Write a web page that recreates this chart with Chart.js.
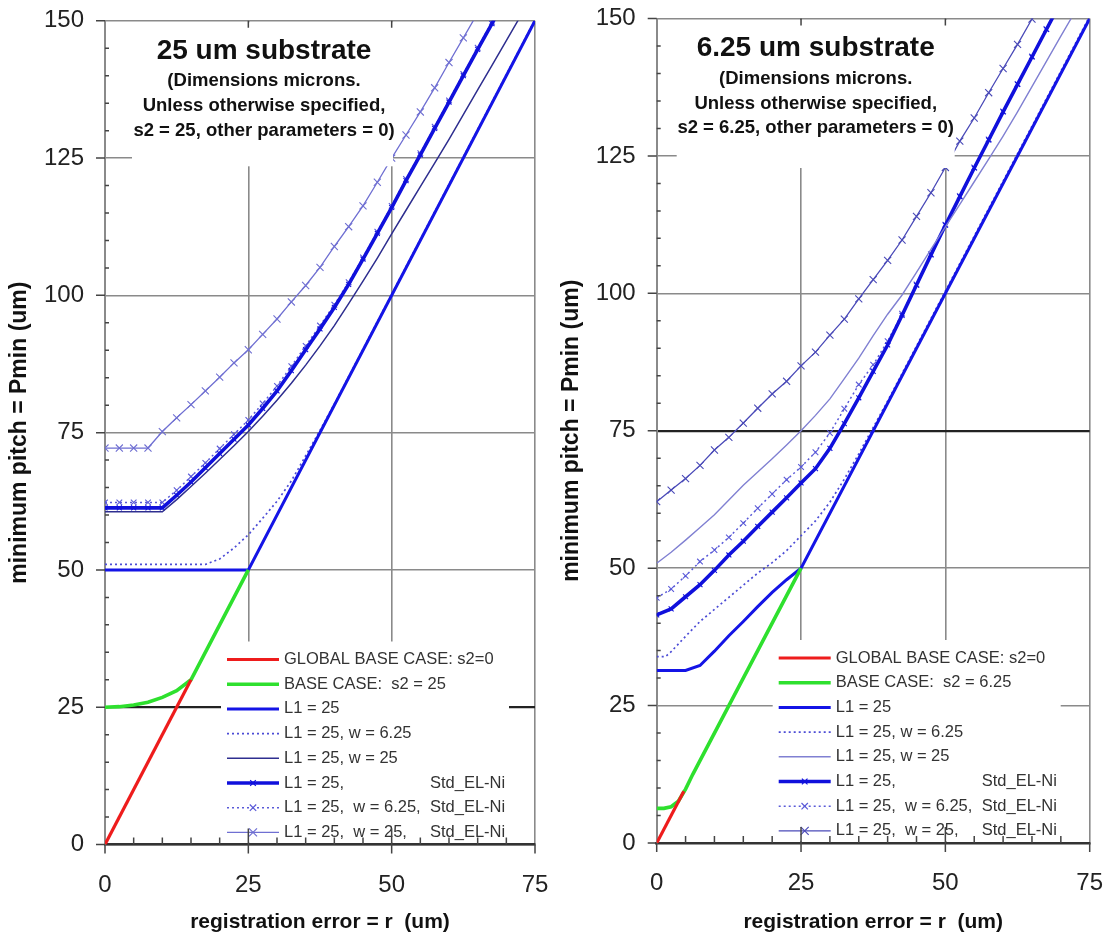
<!DOCTYPE html>
<html>
<head>
<meta charset="utf-8">
<script src="https://cdn.jsdelivr.net/npm/chart.js@4.4.0/dist/chart.umd.min.js"></script>
<style>
  html, body { margin: 0; padding: 0; background: #fff; }
  .wrap { position: relative; width: 1104px; height: 935px; }
  .panel { position: absolute; top: 0; width: 552px; height: 935px; }
  #left-panel { left: 0; }
  #right-panel { left: 552px; }
</style>
</head>
<body>
<div class="wrap">
  <div class="panel" id="left-panel"><canvas id="left-chart" width="552" height="935"></canvas></div>
  <div class="panel" id="right-panel"><canvas id="right-chart" width="552" height="935"></canvas></div>
</div>
<script>
// registration error grid used by the marked curves (um)
const rGrid = [0, 2.5, 5, 7.5, 10, 12.5, 15, 17.5, 20, 22.5, 25, 27.5, 30, 32.5, 35, 37.5,
  40, 42.5, 45, 47.5, 50, 52.5, 55, 57.5, 60, 62.5, 65, 67.5, 70, 72.5];
const xTicks = [0, 25, 50, 75];
const yTicks = [0, 25, 50, 75, 100, 125, 150];

// ---- left panel: 25 um substrate ----
const leftGlobalR = [0, 15];
const leftGlobalP = [0, 30];
const leftBaseR = [0, 2.5, 5, 7.5, 10, 12.5, 15, 25];
const leftBaseP = [25, 25.1, 25.4, 25.9, 26.8, 28.0, 30, 50];
const leftL1R = [0, 25, 75];
const leftL1P = [50, 50, 150];
const leftW6R = [0, 17.5, 20, 22.5, 25, 27.5, 30, 32.5, 35, 37.5, 40, 50, 75];
const leftW6P = [51, 51, 52, 54, 56.4, 59.4, 62.5, 66.2, 70.8, 75.4, 80.2, 100.2, 150.2];
const leftW25R = [0, 10, 12.5, 15, 17.5, 20, 22.5, 25, 27.5, 30, 32.5, 35, 37.5, 40, 42.5,
  45, 47.5, 50, 52.5, 55, 57.5, 60, 62.5, 65, 67.5, 70, 72.5];
const leftW25P = [60.6, 60.6, 62.8, 65.2, 67.6, 70.1, 72.6, 75.2, 78.0, 80.9, 84.0, 87.3, 90.8,
  94.5, 98.5, 102.6, 106.8, 111.2, 115.5, 119.8, 124.1, 128.4, 132.9, 137.4, 141.9, 146.4, 150.9];
const leftStdP = [61.3, 61.3, 61.3, 61.3, 61.3, 63.6, 66.0, 68.6, 71.2, 73.8, 76.4, 79.4, 82.6,
  86.3, 90.1, 93.9, 97.8, 102.0, 106.6, 111.3, 116.0, 120.9, 125.6, 130.4, 135.2, 140.0, 144.8, 149.5, 154.3];
const leftStd6P = [62.3, 62.3, 62.3, 62.3, 62.3, 64.5, 67.0, 69.5, 72.1, 74.7, 77.3, 80.3, 83.5,
  87.1, 90.8, 94.5, 98.3, 102.4, 106.9, 111.6, 116.3, 121.2, 125.9, 130.7, 135.5, 140.3, 145.1, 149.8, 154.6];
const leftStd25P = [72.2, 72.2, 72.2, 72.2, 75.2, 77.7, 80.1, 82.6, 85.1, 87.7, 90.1, 92.9, 95.7,
  98.8, 101.8, 105.1, 108.9, 112.5, 116.3, 120.6, 125.0, 129.2, 133.4, 137.8, 142.4, 146.9, 151.4];

// ---- right panel: 6.25 um substrate ----
const rightGlobalR = [0, 4.7];
const rightGlobalP = [0, 9.4];
const rightBaseR = [0, 1.25, 2.5, 3.75, 5, 6.25, 25];
const rightBaseP = [6.3, 6.3, 6.6, 7.6, 9.8, 12.5, 50];
const rightL1R = [0, 2.5, 5, 7.5, 10, 12.5, 15, 17.5, 20, 22.5, 25, 75];
const rightL1P = [31.4, 31.4, 31.4, 32.3, 34.9, 37.7, 40.3, 43.0, 45.6, 47.9, 50.0, 150];
const rightW6R = [0, 1.5, 2.5, 5, 7.5, 10, 12.5, 15, 17.5, 20, 22.5, 25, 27.5, 30, 32.5, 35, 37.5, 40, 75];
const rightW6P = [33.9, 33.9, 34.8, 37.6, 40.3, 42.5, 44.7, 46.9, 49.1, 51.0, 53.2, 55.9, 58.6,
  62.0, 66.2, 70.8, 75.6, 80.4, 150.4];
const rightW25P = [50.9, 52.9, 55.1, 57.4, 59.7, 62.4, 65.1, 67.5, 69.9, 72.4, 75.0, 77.8, 80.8,
  84.5, 88.2, 92.3, 96.2, 99.7, 103.8, 108.0, 112.1, 116.2, 120.3, 124.4, 128.6, 133.0, 137.6, 142.2, 146.8, 151.3];
const rightStdP = [41.5, 42.6, 44.8, 47.0, 49.6, 52.4, 54.9, 57.6, 60.2, 62.8, 65.5, 68.1, 71.8,
  76.3, 81.0, 85.8, 90.6, 96.0, 101.5, 107.0, 112.4, 117.6, 122.8, 127.9, 133.0, 138.0, 143.0, 148.0, 153.0];
const rightStd6P = [44.6, 46.2, 48.6, 51.2, 53.3, 55.6, 58.2, 60.9, 63.5, 66.1, 68.4, 71.1, 74.6,
  79.0, 83.4, 87.0, 91.3, 96.3, 101.6, 107.1, 112.5, 117.7, 122.9, 128.0, 133.1, 138.1, 143.1, 148.1, 153.1];
const rightStd25P = [62.1, 64.2, 66.3, 68.7, 71.5, 73.8, 76.4, 79.1, 81.7, 84.0, 86.8, 89.3, 92.4,
  95.3, 99.0, 102.5, 106.0, 109.7, 114.0, 118.3, 122.9, 127.7, 131.9, 136.5, 140.9, 145.3, 149.9, 154.4];

// legend text, second column holds the aligned "Std_EL-Ni" part
const leftLabels = ['GLOBAL BASE CASE: s2=0', 'BASE CASE:  s2 = 25', 'L1 = 25', 'L1 = 25, w = 6.25',
  'L1 = 25, w = 25', 'L1 = 25,', 'L1 = 25,  w = 6.25,', 'L1 = 25,  w = 25,'];
const rightLabels = ['GLOBAL BASE CASE: s2=0', 'BASE CASE:  s2 = 6.25', 'L1 = 25', 'L1 = 25, w = 6.25',
  'L1 = 25, w = 25', 'L1 = 25,', 'L1 = 25,  w = 6.25,', 'L1 = 25,  w = 25,'];
const labelTail = ['', '', '', '', '', 'Std_EL-Ni', 'Std_EL-Ni', 'Std_EL-Ni'];

const leftTitle = ['25 um substrate', '(Dimensions microns.', 'Unless otherwise specified,', 's2 = 25, other parameters = 0)'];
const rightTitle = ['6.25 um substrate', '(Dimensions microns.', 'Unless otherwise specified,', 's2 = 6.25, other parameters = 0)'];

Chart.defaults.font.family = "'Liberation Sans', Arial, Helvetica, sans-serif";
Chart.defaults.color = '#222';

function points(xs, ys) {
  return ys.map((v, i) => ({x: xs[i], y: v}));
}

// draws the title block, the legend box and the small tick marks
const decorPlugin = {
  id: 'decor',
  afterDatasetsDraw: (chart, args, opts) => {
    const {ctx, chartArea: a} = chart;
    ctx.save();
    ctx.fillStyle = '#fff';
    ctx.fillRect(a.left + opts.titleBox[0], a.top + 1.5, opts.titleBox[1] - opts.titleBox[0], opts.titleBox[2]);
    ctx.fillRect(a.left + 116, a.bottom - 203, 288, 201);

    ctx.textAlign = 'center';
    ctx.textBaseline = 'middle';
    ctx.fillStyle = '#111';
    ctx.font = "bold 28px 'Liberation Sans', Arial, sans-serif";
    ctx.fillText(opts.title[0], a.left + 159, a.top + 30);
    ctx.font = "bold 18.5px 'Liberation Sans', Arial, sans-serif";
    for (let i = 1; i < opts.title.length; i++) {
      ctx.fillText(opts.title[i], a.left + 159, a.top + 36 + i * 24.6);
    }

    // legend
    ctx.textAlign = 'left';
    ctx.font = "16.5px 'Liberation Sans', Arial, sans-serif";
    chart.data.datasets.forEach((ds, i) => {
      const y = a.bottom - 185 + i * 24.7;
      const x0 = a.left + 122;
      const x1 = a.left + 174;
      ctx.strokeStyle = ds.borderColor;
      ctx.lineWidth = ds.borderWidth;
      ctx.setLineDash(ds.borderDash || []);
      ctx.beginPath();
      ctx.moveTo(x0, y);
      ctx.lineTo(x1, y);
      ctx.stroke();
      ctx.setLineDash([]);
      if (ds.pointRadius > 0) {
        const r = ds.pointRadius * 0.8;
        const xm = (x0 + x1) / 2;
        ctx.lineWidth = 1.2;
        ctx.beginPath();
        ctx.moveTo(xm - r, y - r); ctx.lineTo(xm + r, y + r);
        ctx.moveTo(xm - r, y + r); ctx.lineTo(xm + r, y - r);
        ctx.stroke();
      }
      ctx.fillStyle = '#333';
      ctx.fillText(ds.label, a.left + 179, y);
      if (ds.tail) ctx.fillText(ds.tail, a.left + 325, y);
    });
    ctx.restore();
  },
  afterDraw: (chart) => {
    const {ctx, chartArea: a, scales: {x, y}} = chart;
    ctx.save();
    ctx.strokeStyle = '#444';
    ctx.lineWidth = 1.5;
    ctx.beginPath();
    for (let v = 0; v <= 150; v += 5) {
      const py = y.getPixelForValue(v);
      if (v % 25 === 0) { ctx.moveTo(a.left - 9, py); ctx.lineTo(a.left, py); }
      else { ctx.moveTo(a.left, py); ctx.lineTo(a.left + 4, py); }
    }
    for (let v = 0; v <= 75; v += 5) {
      const px = x.getPixelForValue(v);
      if (v % 25 === 0) {
        ctx.moveTo(px, a.bottom + 9);
        ctx.lineTo(px, a.bottom - (v > 0 && v < 75 ? 16 : 0));
        if (v > 0 && v < 75) { ctx.moveTo(px, a.top); ctx.lineTo(px, a.top + 7); }
      } else {
        ctx.moveTo(px, a.bottom); ctx.lineTo(px, a.bottom - 7);
      }
    }
    ctx.stroke();
    ctx.restore();
  }
};

function makeSet(label, tail, data, style) {
  return {
    label: label,
    tail: tail,
    data: data,
    borderColor: style.color,
    backgroundColor: style.color,
    borderWidth: style.width,
    borderDash: style.dash || [],
    pointRadius: style.marker || 0,
    pointStyle: 'crossRot',
    pointBorderColor: style.color,
    pointBorderWidth: 1.1,
    tension: 0,
    fill: false,
  };
}

function buildChart(canvasId, cfg) {
  const styles = cfg.styles;
  new Chart(document.getElementById(canvasId), {
    type: 'line',
    data: {
      datasets: [
        makeSet(cfg.labels[0], labelTail[0], points(cfg.globalR, cfg.globalP), styles[0]),
        makeSet(cfg.labels[1], labelTail[1], points(cfg.baseR, cfg.baseP), styles[1]),
        makeSet(cfg.labels[2], labelTail[2], points(cfg.l1R, cfg.l1P), styles[2]),
        makeSet(cfg.labels[3], labelTail[3], points(cfg.w6R, cfg.w6P), styles[3]),
        makeSet(cfg.labels[4], labelTail[4], points(cfg.w25R, cfg.w25P), styles[4]),
        makeSet(cfg.labels[5], labelTail[5], points(rGrid, cfg.stdP), styles[5]),
        makeSet(cfg.labels[6], labelTail[6], points(rGrid, cfg.std6P), styles[6]),
        makeSet(cfg.labels[7], labelTail[7], points(rGrid, cfg.std25P), styles[7]),
      ]
    },
    options: {
      responsive: false,
      animation: false,
      layout: { padding: { top: cfg.top, right: cfg.right, left: 0, bottom: 0 } },
      scales: {
        x: {
          type: 'linear', min: 0, max: 75,
          afterBuildTicks: s => { s.ticks = xTicks.map(v => ({value: v})); },
          afterFit: s => { s.height = cfg.bottom; s.paddingLeft = 0; s.paddingRight = 0; },
          ticks: { padding: 26, font: { size: 24 }, color: '#222' },
          grid: { color: '#8a8a8a', lineWidth: 1.6, drawTicks: false },
          border: { color: '#333', width: 2.5 },
          title: { display: true, text: 'registration error = r  (um)', color: '#111',
            font: { size: 21, weight: 'bold' }, padding: { top: 2, bottom: 0 } }
        },
        y: {
          type: 'linear', min: 0, max: 150,
          afterBuildTicks: s => { s.ticks = yTicks.map(v => ({value: v})); },
          afterFit: s => { s.width = cfg.left; s.paddingTop = 0; s.paddingBottom = 0; },
          ticks: { padding: 21, font: { size: 24 }, color: '#222' },
          grid: {
            color: c => c.tick && c.tick.value === cfg.darkLine ? '#222' : '#8a8a8a',
            lineWidth: c => c.tick && c.tick.value === cfg.darkLine ? 2.2 : 1.6,
            drawTicks: false
          },
          border: { color: '#8a8a8a', width: 2 },
          title: { display: true, text: 'minimum pitch = Pmin (um)', color: '#111',
            font: { size: 23, weight: 'bold' }, padding: { top: 6, bottom: 0 } }
        }
      },
      plugins: {
        legend: { display: false },
        tooltip: { enabled: false },
        decor: { title: cfg.title, titleBox: cfg.titleBox }
      }
    },
    plugins: [decorPlugin]
  });
}

buildChart('left-chart', {
  labels: leftLabels, title: leftTitle, titleBox: [27, 288, 144], darkLine: 25,
  top: 20.8, right: 17, left: 105, bottom: 90.5,
  globalR: leftGlobalR, globalP: leftGlobalP, baseR: leftBaseR, baseP: leftBaseP,
  l1R: leftL1R, l1P: leftL1P, w6R: leftW6R, w6P: leftW6P, w25R: leftW25R, w25P: leftW25P,
  stdP: leftStdP, std6P: leftStd6P, std25P: leftStd25P,
  styles: [
    {color: '#ee1c1c', width: 3.2},
    {color: '#2ee02e', width: 3.6},
    {color: '#1414e6', width: 3},
    {color: '#4c4cd6', width: 1.7, dash: [2, 3]},
    {color: '#2e2e8f', width: 1.5},
    {color: '#1010dc', width: 3.6, marker: 3.5},
    {color: '#5a5ad8', width: 1.5, dash: [2, 3], marker: 4},
    {color: '#6f6fd2', width: 1.3, marker: 5},
  ]
});

buildChart('right-chart', {
  labels: rightLabels, title: rightTitle, titleBox: [20, 298, 148], darkLine: 75,
  top: 18.5, right: 14.3, left: 104.7, bottom: 92,
  globalR: rightGlobalR, globalP: rightGlobalP, baseR: rightBaseR, baseP: rightBaseP,
  l1R: rightL1R, l1P: rightL1P, w6R: rightW6R, w6P: rightW6P, w25R: rGrid, w25P: rightW25P,
  stdP: rightStdP, std6P: rightStd6P, std25P: rightStd25P,
  styles: [
    {color: '#ee1c1c', width: 3.2},
    {color: '#2ee02e', width: 3.6},
    {color: '#1414e6', width: 3},
    {color: '#4c4cd6', width: 1.7, dash: [2, 3]},
    {color: '#8080d2', width: 1.4},
    {color: '#1010dc', width: 3.6, marker: 3.5},
    {color: '#5a5ad8', width: 1.5, dash: [2, 3], marker: 4},
    {color: '#4a4ab8', width: 1.3, marker: 5},
  ]
});
</script>
</body>
</html>
